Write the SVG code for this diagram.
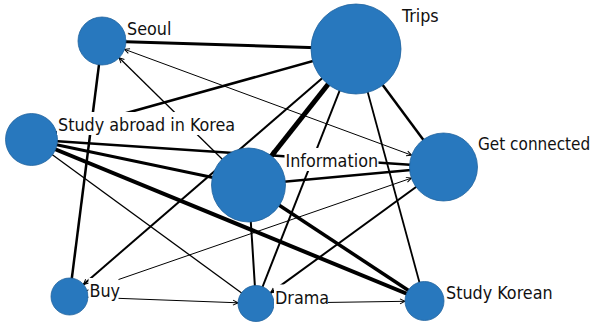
<svg xmlns="http://www.w3.org/2000/svg" width="593" height="324" viewBox="0 0 593 324">
<style>
.e{stroke:#000;fill:none;stroke-linecap:butt}
.n{fill:#2878BE;stroke:#21639e;stroke-width:0.8}
.lb{fill:#fff}
.t{font-family:'DejaVu Sans Condensed','DejaVu Sans',sans-serif;font-stretch:condensed;font-size:17.8px;fill:#111}
</style>
<defs>
<marker id="ar" viewBox="-7 -4 8 8" markerWidth="8" markerHeight="8" refX="0" refY="0" markerUnits="userSpaceOnUse" orient="auto-start-reverse">
<path d="M-5,-2.5 L0,0 L-5,2.5" fill="none" stroke="#000" stroke-width="1"/>
</marker>
</defs>
<rect width="593" height="324" fill="#fff"/>
<g id="edges">
<line class="e" x1="102" y1="41" x2="356" y2="49" stroke-width="3"/>
<line class="e" x1="102" y1="41" x2="69.5" y2="296.5" stroke-width="2.5"/>
<line class="e" x1="124.5" y1="49.3" x2="411.6" y2="155.2" stroke-width="1" marker-start="url(#ar)" marker-end="url(#ar)"/>
<line class="e" x1="248.5" y1="185" x2="119.1" y2="57.8" stroke-width="1.3" marker-end="url(#ar)"/>
<line class="e" x1="31.5" y1="139.5" x2="356" y2="49" stroke-width="2.5"/>
<line class="e" x1="356" y1="49" x2="271.4" y2="156" stroke-width="5" marker-end="url(#ar)"/>
<line class="e" x1="356" y1="49" x2="83.5" y2="284.4" stroke-width="2" marker-end="url(#ar)"/>
<line class="e" x1="356" y1="49" x2="256" y2="303.5" stroke-width="2"/>
<line class="e" x1="356" y1="49" x2="424.5" y2="301" stroke-width="1.8"/>
<line class="e" x1="356" y1="49" x2="443.5" y2="167" stroke-width="2.5"/>
<line class="e" x1="31.5" y1="139.5" x2="443.5" y2="167" stroke-width="2.5"/>
<line class="e" x1="31.5" y1="139.5" x2="248.5" y2="185" stroke-width="3"/>
<line class="e" x1="31.5" y1="139.5" x2="424.5" y2="301" stroke-width="4"/>
<line class="e" x1="31.5" y1="139.5" x2="256" y2="303.5" stroke-width="1.3"/>
<line class="e" x1="248.5" y1="185" x2="443.5" y2="167" stroke-width="2.5"/>
<line class="e" x1="248.5" y1="185" x2="256" y2="303.5" stroke-width="2"/>
<line class="e" x1="248.5" y1="185" x2="424.5" y2="301" stroke-width="3.5"/>
<line class="e" x1="69.5" y1="296.5" x2="411.4" y2="178.1" stroke-width="1" stroke="#333" marker-end="url(#ar)"/>
<line class="e" x1="443.5" y1="167" x2="270.6" y2="292.9" stroke-width="2" marker-end="url(#ar)"/>
<line class="e" x1="69.5" y1="296.5" x2="238" y2="302.8" stroke-width="1" stroke="#666" marker-end="url(#ar)"/>
<line class="e" x1="256" y1="303.5" x2="405" y2="301.3" stroke-width="1" stroke="#666" marker-end="url(#ar)"/>
</g>
<g id="node-seoul"><circle class="n" cx="102" cy="41" r="24"/><rect class="lb" x="126" y="16" width="45" height="23"/><text class="t" x="127" y="35">Seoul</text></g>
<g id="node-trips"><circle class="n" cx="356" cy="49" r="45"/><rect class="lb" x="401" y="2.5" width="40" height="23"/><text class="t" x="402" y="21.5">Trips</text></g>
<g id="node-study-abroad"><circle class="n" cx="31.5" cy="139.5" r="26"/><rect class="lb" x="57" y="112" width="180" height="23"/><text class="t" x="58" y="131">Study abroad in Korea</text></g>
<g id="node-get-connected"><circle class="n" cx="443.5" cy="167" r="34"/><rect class="lb" x="477" y="131" width="116" height="23"/><text class="t" x="478" y="150" style="font-size:17px">Get connected</text></g>
<g id="node-information"><circle class="n" cx="248.5" cy="185" r="37"/><rect class="lb" x="284.5" y="148" width="94" height="23"/><text class="t" x="285.5" y="167">Information</text></g>
<g id="node-buy"><circle class="n" cx="69.5" cy="296.5" r="18.5"/><rect class="lb" x="88.5" y="278" width="30" height="23"/><text class="t" x="89.5" y="297">Buy</text></g>
<g id="node-drama"><circle class="n" cx="256" cy="303.5" r="18"/><rect class="lb" x="274" y="284.5" width="54" height="23"/><text class="t" x="275" y="303.5">Drama</text></g>
<g id="node-study-korean"><circle class="n" cx="424.5" cy="301" r="19.5"/><rect class="lb" x="445" y="280" width="107" height="23"/><text class="t" x="446" y="299">Study Korean</text></g>
</svg>
